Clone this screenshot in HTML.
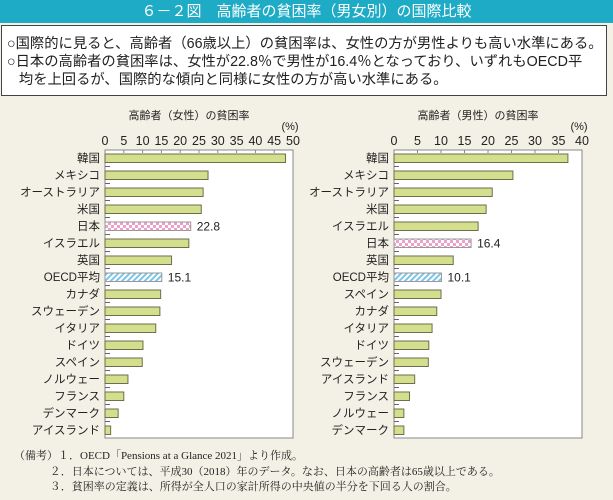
<!DOCTYPE html>
<html><head><meta charset="utf-8"><style>
body{margin:0;width:613px;height:500px;background:#f3f1e6;font-family:"Liberation Sans","Noto Sans CJK JP",sans-serif;position:relative;overflow:hidden}
#hdr{position:absolute;left:0;top:0;width:613px;height:23px;background:#1eabc6;color:#fff;font-size:15px;line-height:23px;text-align:center}
#box{position:absolute;left:1px;top:25px;width:606px;height:71px;border:1.5px solid #444;background:#fff;font-size:14.3px;line-height:18px;color:#222;padding:9px 0 0 5px;box-sizing:border-box;white-space:nowrap}
#notes{position:absolute;left:14px;top:449px;font-family:"Liberation Serif","Noto Serif CJK SC",serif;font-size:11px;line-height:15.5px;color:#222}
svg{position:absolute;left:0;top:0}
</style></head><body>
<div id="hdr">６－２図　高齢者の貧困率（男女別）の国際比較</div>
<div id="box">○国際的に見ると、高齢者（66歳以上）の貧困率は、女性の方が男性よりも高い水準にある。<br>○日本の高齢者の貧困率は、女性が22.8％で男性が16.4％となっており、いずれもOECD平<br>&nbsp;&nbsp;&nbsp;均を上回るが、国際的な傾向と同様に女性の方が高い水準にある。</div>
<svg id="chart" width="613" height="500">
<defs>
<pattern id="pink" width="6" height="6" patternUnits="userSpaceOnUse"><rect width="6" height="6" fill="#fff"/><rect width="3" height="3" fill="#f0a0c8"/><rect x="3" y="3" width="3" height="3" fill="#f0a0c8"/></pattern>
<pattern id="blue" width="4" height="4" patternUnits="userSpaceOnUse" patternTransform="rotate(45)"><rect width="4" height="4" fill="#fff"/><rect width="2" height="4" fill="#7cc4ea"/></pattern>
</defs>
</svg>
<div id="notes">（備考）１．OECD「Pensions at a Glance 2021」より作成。<br>&nbsp;&nbsp;&nbsp;&nbsp;&nbsp;&nbsp;&nbsp;&nbsp;&nbsp;&nbsp;&nbsp;&nbsp;&nbsp;２．日本については、平成30（2018）年のデータ。なお、日本の高齢者は65歳以上である。<br>&nbsp;&nbsp;&nbsp;&nbsp;&nbsp;&nbsp;&nbsp;&nbsp;&nbsp;&nbsp;&nbsp;&nbsp;&nbsp;３．貧困率の定義は、所得が全人口の家計所得の中央値の半分を下回る人の割合。</div>
<script>
const femaleCats=["韓国","メキシコ","オーストラリア","米国","日本","イスラエル","英国","OECD平均","カナダ","スウェーデン","イタリア","ドイツ","スペイン","ノルウェー","フランス","デンマーク","アイスランド"];
const femaleVals=[48.0,27.4,26.1,25.6,22.8,22.3,17.7,15.1,14.8,14.6,13.5,10.1,9.9,6.1,5.0,3.5,1.5];
const femaleTicks=[0,5,10,15,20,25,30,35,40,45,50];
const maleCats=["韓国","メキシコ","オーストラリア","米国","イスラエル","日本","英国","OECD平均","スペイン","カナダ","イタリア","ドイツ","スウェーデン","アイスランド","フランス","ノルウェー","デンマーク"];
const maleVals=[37.0,25.3,20.9,19.6,17.9,16.4,12.6,10.1,10.0,9.1,8.1,7.4,7.3,4.4,3.3,2.1,2.1];
const maleTicks=[0,5,10,15,20,25,30,35,40];
const svg=document.getElementById('chart');
const NS='http://www.w3.org/2000/svg';
function mk(tag,at,txt){const e=document.createElementNS(NS,tag);for(const k in at)e.setAttribute(k,at[k]);if(txt!=null)e.textContent=txt;svg.appendChild(e);return e;}
function draw(cats,vals,ticks,x0,x1,title,prefix){
  const max=ticks[ticks.length-1];
  const top=150,bot=438,step=17,first=158;
  const xs=v=>x0+(v/max)*(x1-x0);
  const box=mk('rect',{x:x0,y:top,width:x1-x0,height:bot-top,fill:'#fff',stroke:'#888','stroke-width':1});
  
  const t=mk('text',{x:(x0+x1)/2-10,y:119,'font-size':11,'text-anchor':'middle',fill:'#222'},title);
  
  const u=mk('text',{x:x1-3,y:130,'font-size':11,'text-anchor':'middle',fill:'#222'},'(%)');
  
  ticks.forEach(v=>{
    const tl=mk('text',{x:xs(v),y:145,'font-size':12.5,'text-anchor':'middle',fill:'#222'},String(v));
    
    const tk=mk('line',{x1:xs(v),x2:xs(v),y1:top,y2:top+3,stroke:'#888'});
    
  });
  cats.forEach((c,i)=>{
    const cy=first+i*step;
    if(i>0){const tk=mk('line',{x1:x0,x2:x0+5,y1:cy-8.5,y2:cy-8.5,stroke:'#666'});
      }
    const lb=mk('text',{x:x0-5,y:cy+4,'font-size':11.5,'text-anchor':'end',fill:'#222'},c);
    
    const fill=c==='日本'?'url(#pink)':c==='OECD平均'?'url(#blue)':'#d3df8c';
    const stroke=c==='日本'||c==='OECD平均'?'#999':'#6e6e4e';
    const b=mk('rect',{x:x0,y:cy-4,width:xs(vals[i])-x0,height:8.5,fill:fill,stroke:stroke,'stroke-width':1});
    
    if(c==='日本'||c==='OECD平均'){
      const vl=mk('text',{x:xs(vals[i])+6,y:cy+4.5,'font-size':12,fill:'#222'},vals[i].toFixed(1));
      
    }
  });
}
draw(femaleCats,femaleVals,femaleTicks,105,293,'高齢者（女性）の貧困率','female');
draw(maleCats,maleVals,maleTicks,394,582,'高齢者（男性）の貧困率','male');
</script>
</body></html>
